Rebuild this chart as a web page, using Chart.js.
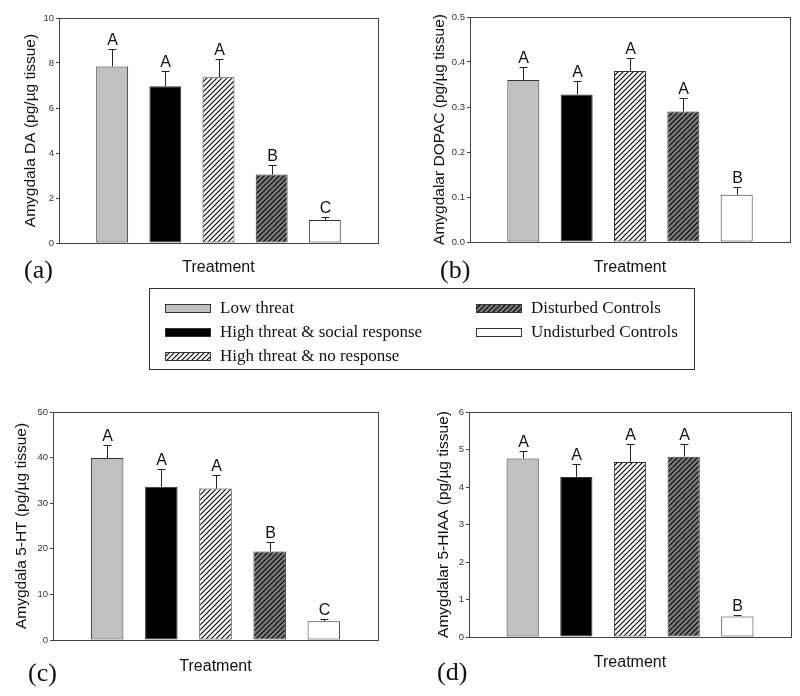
<!DOCTYPE html>
<html>
<head>
<meta charset="utf-8">
<script src="https://cdn.jsdelivr.net/npm/chart.js@4.4.1/dist/chart.umd.min.js"></script>
<style>
  html, body { margin: 0; padding: 0; background: #fff; }
  #wrap { position: relative; width: 800px; height: 696px; overflow: hidden; }
  .panel { position: absolute; }
  .tag { position: absolute; font-family: "Liberation Serif", "Times New Roman", serif; font-size: 26px; color: #111; line-height: 1; }
  #legend { position: absolute; left: 149px; top: 288px; width: 546px; height: 82px; border: 1px solid #333; box-sizing: border-box; }
  .item { position: absolute; display: flex; align-items: center; font-family: "Liberation Serif", "Times New Roman", serif; font-size: 17px; color: #111; white-space: nowrap; }
  .item canvas { margin-right: 9px; }
</style>
</head>
<body>
<div id="wrap">
  <div class="panel" style="left:0;top:0;width:400px;height:290px"><canvas id="chartA"></canvas></div>
  <div class="panel" style="left:400px;top:0;width:400px;height:290px"><canvas id="chartB"></canvas></div>
  <div class="panel" style="left:0;top:400px;width:400px;height:296px"><canvas id="chartC"></canvas></div>
  <div class="panel" style="left:400px;top:400px;width:400px;height:296px"><canvas id="chartD"></canvas></div>
  <div class="tag" style="left:24px;top:257px">(a)</div>
  <div class="tag" style="left:440px;top:257px">(b)</div>
  <div class="tag" style="left:28px;top:660px">(c)</div>
  <div class="tag" style="left:437px;top:659px">(d)</div>
  <div id="legend"></div>
</div>
<script>
// treatments, in bar order
const treatments = ['Low threat', 'High threat & social response', 'High threat & no response', 'Disturbed Controls', 'Undisturbed Controls'];

// (a) DA
const daMean = [7.85, 6.97, 7.37, 3.04, 1.02];
const daErr = [0.77, 0.68, 0.79, 0.41, 0.12];
const daLetters = ['A', 'A', 'A', 'B', 'C'];

// (b) DOPAC
const dopacMean = [0.360, 0.328, 0.380, 0.290, 0.105];
const dopacErr = [0.029, 0.030, 0.029, 0.030, 0.018];
const dopacLetters = ['A', 'A', 'A', 'A', 'B'];

// (c) 5-HT
const htMean = [39.9, 33.6, 33.2, 19.4, 4.1];
const htErr = [2.8, 3.9, 3.0, 2.1, 0.4];
const htLetters = ['A', 'A', 'A', 'B', 'C'];

// (d) 5-HIAA
const hiaaMean = [4.76, 4.27, 4.67, 4.81, 0.55];
const hiaaErr = [0.19, 0.34, 0.47, 0.33, 0.03];
const hiaaLetters = ['A', 'A', 'A', 'A', 'B'];

const SANS = '"Liberation Sans", Arial, sans-serif';

function hatch(bg) {
    const c = document.createElement('canvas');
    c.width = 5; c.height = 5;
    const g = c.getContext('2d');
    g.fillStyle = bg;
    g.fillRect(0, 0, 5, 5);
    g.strokeStyle = '#000';
    g.lineWidth = 1.1;
    g.beginPath();
    g.moveTo(-1, 6); g.lineTo(6, -1);
    g.moveTo(-1, 1); g.lineTo(1, -1);
    g.moveTo(4, 6); g.lineTo(6, 4);
    g.stroke();
    return document.createElement('canvas').getContext('2d').createPattern(c, 'repeat');
}

const fills = ['#c0c0c0', '#000000', hatch('#ffffff'), hatch('#7a7a7a'), '#ffffff'];

// error bars, letters and the plot frame
const extras = {
    id: 'extras',
    afterDatasetsDraw(chart, args, opts) {
        const { ctx, chartArea: a, scales: { x, y } } = chart;
        ctx.save();
        ctx.strokeStyle = '#222';
        ctx.lineWidth = 1;
        opts.mean.forEach((m, i) => {
            const px = Math.round(x.getPixelForValue(i + 1)) + 0.5;
            const yb = y.getPixelForValue(m);
            const yt = Math.round(y.getPixelForValue(m + opts.err[i])) + 0.5;
            ctx.beginPath();
            ctx.moveTo(px, yb);
            ctx.lineTo(px, yt);
            ctx.moveTo(px - 4, yt);
            ctx.lineTo(px + 4, yt);
            ctx.stroke();
            ctx.fillStyle = '#111';
            ctx.font = '16px ' + SANS;
            ctx.textAlign = 'center';
            ctx.textBaseline = 'alphabetic';
            ctx.fillText(opts.letters[i], px, yt - 5);
        });
        ctx.strokeStyle = '#444';
        ctx.strokeRect(Math.round(a.left) + 0.5, Math.round(a.top) + 0.5, Math.round(a.right - a.left), Math.round(a.bottom - a.top));
        ctx.restore();
    }
};

function makeChart(id, cfg) {
    new Chart(document.getElementById(id), {
        type: 'bar',
        data: {
            labels: treatments,
            datasets: [{
                data: cfg.mean.map((v, i) => ({ x: i + 1, y: v })),
                backgroundColor: fills,
                borderColor: '#333',
                borderWidth: 1,
                borderSkipped: false,
                barPercentage: 0.6,
                categoryPercentage: 1
            }]
        },
        options: {
            responsive: true,
            maintainAspectRatio: false,
            animation: false,
            events: [],
            layout: { padding: { top: cfg.padTop, right: cfg.padRight, left: 0, bottom: 0 } },
            plugins: {
                legend: { display: false },
                tooltip: { enabled: false },
                extras: { mean: cfg.mean, err: cfg.err, letters: cfg.letters }
            },
            scales: {
                x: {
                    type: 'linear',
                    min: 0, max: 6,
                    offset: false,
                    grid: { display: false },
                    border: { display: false },
                    ticks: { display: false },
                    title: { display: true, text: 'Treatment', color: '#111', font: { family: SANS, size: 16 }, padding: { top: 0, bottom: cfg.xTitlePad } },
                    afterFit: s => { s.height = cfg.xAxisH; }
                },
                y: {
                    min: 0, max: cfg.max,
                    grid: { display: true, drawOnChartArea: false, drawTicks: true, tickLength: 3, color: '#444' },
                    border: { display: false },
                    ticks: {
                        stepSize: cfg.step,
                        padding: 2,
                        color: '#333',
                        font: { family: SANS, size: 9.5 },
                        callback: v => cfg.dec ? v.toFixed(cfg.dec) : v
                    },
                    title: { display: true, text: cfg.title, color: '#111', font: { family: SANS, size: 15.5 }, padding: { top: cfg.yTitlePad, bottom: 0 } },
                    afterFit: s => { s.width = cfg.yAxisW; }
                }
            }
        },
        plugins: [extras]
    });
}

makeChart('chartA', { mean: daMean, err: daErr, letters: daLetters, max: 10, step: 2, dec: 0,
    title: 'Amygdala DA (pg/\u00b5g tissue)', padTop: 18, padRight: 22, yAxisW: 59, xAxisH: 47, xTitlePad: 12.4, yTitlePad: 21.5 });
makeChart('chartB', { mean: dopacMean, err: dopacErr, letters: dopacLetters, max: 0.5, step: 0.1, dec: 1,
    title: 'Amygdalar DOPAC (pg/\u00b5g tissue)', padTop: 17, padRight: 10, yAxisW: 70, xAxisH: 48, xTitlePad: 12.4, yTitlePad: 30.5 });
makeChart('chartC', { mean: htMean, err: htErr, letters: htLetters, max: 50, step: 10, dec: 0,
    title: 'Amygdala 5-HT (pg/\u00b5g tissue)', padTop: 12, padRight: 22, yAxisW: 53, xAxisH: 56, xTitlePad: 19.4, yTitlePad: 12.5 });
makeChart('chartD', { mean: hiaaMean, err: hiaaErr, letters: hiaaLetters, max: 6, step: 1, dec: 0,
    title: 'Amygdalar 5-HIAA (pg/\u00b5g tissue)', padTop: 12, padRight: 9, yAxisW: 69, xAxisH: 59, xTitlePad: 23.4, yTitlePad: 34.5 });

// shared legend
const legend = document.getElementById('legend');
const legendCols = [0, 0, 0, 1, 1];
const legendRows = [0, 1, 2, 0, 1];
treatments.forEach((name, i) => {
    const item = document.createElement('div');
    item.className = 'item';
    item.style.left = (legendCols[i] ? 326 : 15) + 'px';
    item.style.top = (9 + legendRows[i] * 24) + 'px';
    const sw = document.createElement('canvas');
    sw.width = 46; sw.height = 9;
    const g = sw.getContext('2d');
    g.fillStyle = fills[i];
    g.fillRect(0, 0, 46, 9);
    g.strokeStyle = '#333';
    g.lineWidth = 1;
    g.strokeRect(0.5, 0.5, 45, 8);
    item.appendChild(sw);
    item.appendChild(document.createTextNode(name));
    legend.appendChild(item);
});
</script>
</body>
</html>
